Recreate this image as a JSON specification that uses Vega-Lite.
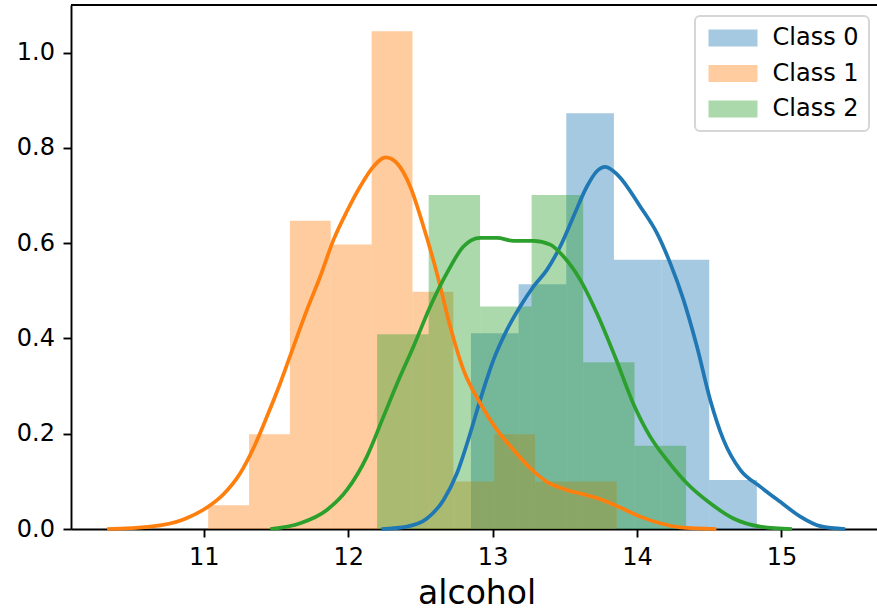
{
  "$schema": "https://vega.github.io/schema/vega-lite/v6.json",
  "width": 806,
  "height": 524,
  "autosize": {"type": "none"},
  "padding": {"left": 71, "top": 5, "right": 0, "bottom": 81},
  "background": "white",
  "config": {"view": {"stroke": null}, "font": "DejaVu Sans"},
  "datasets": {
    "hist": [
      {"cls": "Class 0", "x0": 12.85, "x1": 13.18, "density": 0.411},
      {"cls": "Class 0", "x0": 13.18, "x1": 13.51, "density": 0.514},
      {"cls": "Class 0", "x0": 13.51, "x1": 13.84, "density": 0.873},
      {"cls": "Class 0", "x0": 13.84, "x1": 14.17, "density": 0.565},
      {"cls": "Class 0", "x0": 14.17, "x1": 14.50, "density": 0.565},
      {"cls": "Class 0", "x0": 14.50, "x1": 14.83, "density": 0.103},
      {"cls": "Class 1", "x0": 11.03, "x1": 11.313, "density": 0.0498},
      {"cls": "Class 1", "x0": 11.313, "x1": 11.596, "density": 0.199},
      {"cls": "Class 1", "x0": 11.596, "x1": 11.879, "density": 0.647},
      {"cls": "Class 1", "x0": 11.879, "x1": 12.162, "density": 0.597},
      {"cls": "Class 1", "x0": 12.162, "x1": 12.445, "density": 1.045},
      {"cls": "Class 1", "x0": 12.445, "x1": 12.728, "density": 0.498},
      {"cls": "Class 1", "x0": 12.728, "x1": 13.011, "density": 0.0995},
      {"cls": "Class 1", "x0": 13.011, "x1": 13.294, "density": 0.199},
      {"cls": "Class 1", "x0": 13.294, "x1": 13.577, "density": 0.0995},
      {"cls": "Class 1", "x0": 13.577, "x1": 13.86, "density": 0.0995},
      {"cls": "Class 2", "x0": 12.2, "x1": 12.557, "density": 0.409},
      {"cls": "Class 2", "x0": 12.557, "x1": 12.913, "density": 0.701},
      {"cls": "Class 2", "x0": 12.913, "x1": 13.27, "density": 0.467},
      {"cls": "Class 2", "x0": 13.27, "x1": 13.627, "density": 0.701},
      {"cls": "Class 2", "x0": 13.627, "x1": 13.983, "density": 0.350},
      {"cls": "Class 2", "x0": 13.983, "x1": 14.34, "density": 0.175}
    ],
    "kde": [
      {"cls": "Class 0", "x": 12.23, "d": 0.0},
      {"cls": "Class 0", "x": 12.406, "d": 0.005},
      {"cls": "Class 0", "x": 12.545, "d": 0.022},
      {"cls": "Class 0", "x": 12.66, "d": 0.061},
      {"cls": "Class 0", "x": 12.753, "d": 0.117},
      {"cls": "Class 0", "x": 12.845, "d": 0.201},
      {"cls": "Class 0", "x": 12.914, "d": 0.271},
      {"cls": "Class 0", "x": 13.006, "d": 0.355},
      {"cls": "Class 0", "x": 13.099, "d": 0.418},
      {"cls": "Class 0", "x": 13.191, "d": 0.467},
      {"cls": "Class 0", "x": 13.283, "d": 0.509},
      {"cls": "Class 0", "x": 13.376, "d": 0.544},
      {"cls": "Class 0", "x": 13.468, "d": 0.593},
      {"cls": "Class 0", "x": 13.56, "d": 0.656},
      {"cls": "Class 0", "x": 13.653, "d": 0.719},
      {"cls": "Class 0", "x": 13.722, "d": 0.751},
      {"cls": "Class 0", "x": 13.78, "d": 0.76},
      {"cls": "Class 0", "x": 13.87, "d": 0.742},
      {"cls": "Class 0", "x": 14.022, "d": 0.677},
      {"cls": "Class 0", "x": 14.138, "d": 0.621},
      {"cls": "Class 0", "x": 14.23, "d": 0.558},
      {"cls": "Class 0", "x": 14.322, "d": 0.481},
      {"cls": "Class 0", "x": 14.415, "d": 0.383},
      {"cls": "Class 0", "x": 14.507, "d": 0.271},
      {"cls": "Class 0", "x": 14.599, "d": 0.187},
      {"cls": "Class 0", "x": 14.715, "d": 0.124},
      {"cls": "Class 0", "x": 14.853, "d": 0.089},
      {"cls": "Class 0", "x": 14.992, "d": 0.057},
      {"cls": "Class 0", "x": 15.131, "d": 0.026},
      {"cls": "Class 0", "x": 15.269, "d": 0.006},
      {"cls": "Class 0", "x": 15.442, "d": 0.0},
      {"cls": "Class 1", "x": 10.33, "d": 0.0},
      {"cls": "Class 1", "x": 10.629, "d": 0.005},
      {"cls": "Class 1", "x": 10.859, "d": 0.02},
      {"cls": "Class 1", "x": 11.021, "d": 0.045},
      {"cls": "Class 1", "x": 11.136, "d": 0.073},
      {"cls": "Class 1", "x": 11.252, "d": 0.117},
      {"cls": "Class 1", "x": 11.344, "d": 0.17},
      {"cls": "Class 1", "x": 11.437, "d": 0.236},
      {"cls": "Class 1", "x": 11.529, "d": 0.306},
      {"cls": "Class 1", "x": 11.621, "d": 0.383},
      {"cls": "Class 1", "x": 11.714, "d": 0.46},
      {"cls": "Class 1", "x": 11.806, "d": 0.53},
      {"cls": "Class 1", "x": 11.898, "d": 0.607},
      {"cls": "Class 1", "x": 11.991, "d": 0.667},
      {"cls": "Class 1", "x": 12.083, "d": 0.719},
      {"cls": "Class 1", "x": 12.175, "d": 0.761},
      {"cls": "Class 1", "x": 12.26, "d": 0.78},
      {"cls": "Class 1", "x": 12.337, "d": 0.768},
      {"cls": "Class 1", "x": 12.429, "d": 0.719},
      {"cls": "Class 1", "x": 12.521, "d": 0.635},
      {"cls": "Class 1", "x": 12.614, "d": 0.537},
      {"cls": "Class 1", "x": 12.706, "d": 0.425},
      {"cls": "Class 1", "x": 12.798, "d": 0.334},
      {"cls": "Class 1", "x": 12.914, "d": 0.264},
      {"cls": "Class 1", "x": 13.03, "d": 0.208},
      {"cls": "Class 1", "x": 13.145, "d": 0.166},
      {"cls": "Class 1", "x": 13.26, "d": 0.128},
      {"cls": "Class 1", "x": 13.376, "d": 0.099},
      {"cls": "Class 1", "x": 13.515, "d": 0.082},
      {"cls": "Class 1", "x": 13.653, "d": 0.071},
      {"cls": "Class 1", "x": 13.76, "d": 0.061},
      {"cls": "Class 1", "x": 13.884, "d": 0.045},
      {"cls": "Class 1", "x": 14.022, "d": 0.026},
      {"cls": "Class 1", "x": 14.161, "d": 0.012},
      {"cls": "Class 1", "x": 14.3, "d": 0.0035},
      {"cls": "Class 1", "x": 14.55, "d": 0.0},
      {"cls": "Class 2", "x": 11.46, "d": 0.0},
      {"cls": "Class 2", "x": 11.668, "d": 0.012},
      {"cls": "Class 2", "x": 11.852, "d": 0.04},
      {"cls": "Class 2", "x": 11.991, "d": 0.082},
      {"cls": "Class 2", "x": 12.129, "d": 0.152},
      {"cls": "Class 2", "x": 12.235, "d": 0.229},
      {"cls": "Class 2", "x": 12.345, "d": 0.31},
      {"cls": "Class 2", "x": 12.452, "d": 0.383},
      {"cls": "Class 2", "x": 12.568, "d": 0.467},
      {"cls": "Class 2", "x": 12.683, "d": 0.537},
      {"cls": "Class 2", "x": 12.798, "d": 0.593},
      {"cls": "Class 2", "x": 12.914, "d": 0.611},
      {"cls": "Class 2", "x": 13.03, "d": 0.611},
      {"cls": "Class 2", "x": 13.145, "d": 0.605},
      {"cls": "Class 2", "x": 13.283, "d": 0.605},
      {"cls": "Class 2", "x": 13.399, "d": 0.597},
      {"cls": "Class 2", "x": 13.491, "d": 0.572},
      {"cls": "Class 2", "x": 13.607, "d": 0.523},
      {"cls": "Class 2", "x": 13.722, "d": 0.453},
      {"cls": "Class 2", "x": 13.85, "d": 0.36},
      {"cls": "Class 2", "x": 13.976, "d": 0.262},
      {"cls": "Class 2", "x": 14.091, "d": 0.194},
      {"cls": "Class 2", "x": 14.207, "d": 0.145},
      {"cls": "Class 2", "x": 14.345, "d": 0.096},
      {"cls": "Class 2", "x": 14.507, "d": 0.054},
      {"cls": "Class 2", "x": 14.668, "d": 0.022},
      {"cls": "Class 2", "x": 14.853, "d": 0.005},
      {"cls": "Class 2", "x": 15.073, "d": 0.0}
    ]
  },
  "layer": [
    {
      "data": {"name": "hist"},
      "transform": [{"filter": "datum.cls === 'Class 0'"}],
      "mark": {"type": "bar", "opacity": 0.4, "strokeWidth": 0},
      "encoding": {
        "x": {"field": "x0", "type": "quantitative",
          "scale": {"domain": [10.08, 15.662], "nice": false, "zero": false},
          "axis": {
            "title": "alcohol", "values": [11, 12, 13, 14, 15], "format": "d",
            "grid": false, "domainColor": "black", "domainWidth": 1.9,
            "tickColor": "black", "tickWidth": 1.9, "tickSize": 8, "labelPadding": 8,
            "labelFont": "DejaVu Sans", "labelFontSize": 24, "labelColor": "black",
            "titleFont": "DejaVu Sans", "titleFontSize": 33, "titleFontWeight": "normal", "titleColor": "black",
            "titleBaseline": "alphabetic", "titleX": 405.6, "titleY": 74
          }
        },
        "x2": {"field": "x1"},
        "y": {"field": "density", "type": "quantitative",
          "scale": {"domain": [0, 1.1], "nice": false},
          "axis": {
            "title": null, "values": [0, 0.2, 0.4, 0.6, 0.8, 1.0], "format": ".1f",
            "grid": false, "domainColor": "black", "domainWidth": 1.9,
            "tickColor": "black", "tickWidth": 1.9, "tickSize": 8, "labelPadding": 8.5,
            "labelFont": "DejaVu Sans", "labelFontSize": 24, "labelColor": "black"
          }
        },
        "y2": {"datum": 0},
        "color": {"field": "cls", "type": "nominal",
          "scale": {"domain": ["Class 0", "Class 1", "Class 2"], "range": ["#1f77b4", "#ff7f0e", "#2ca02c"]},
          "legend": {"title": null, "orient": "none", "legendX": 624, "legendY": 11,
            "symbolType": "M-2.88,-1H2.88V1H-2.88Z", "symbolSize": 289, "symbolStrokeWidth": 0, "symbolOpacity": 0.4,
            "labelFontSize": 24, "labelFont": "DejaVu Sans", "labelColor": "black", "labelOffset": 27.5, "symbolOffset": 16,
            "padding": 10, "rowPadding": 11.5, "fillColor": "rgba(255,255,255,0.8)", "strokeColor": "#d6d6d6", "cornerRadius": 5,
            "encode": {"legend": {"update": {"strokeWidth": {"value": 2}}}}}}
      }
    },
    {
      "data": {"name": "hist"},
      "transform": [{"filter": "datum.cls === 'Class 1'"}],
      "mark": {"type": "bar", "opacity": 0.4, "strokeWidth": 0},
      "encoding": {
        "x": {"field": "x0", "type": "quantitative"},
        "x2": {"field": "x1"},
        "y": {"field": "density", "type": "quantitative"},
        "y2": {"datum": 0},
        "color": {"field": "cls", "type": "nominal"}
      }
    },
    {
      "data": {"name": "hist"},
      "transform": [{"filter": "datum.cls === 'Class 2'"}],
      "mark": {"type": "bar", "opacity": 0.4, "strokeWidth": 0},
      "encoding": {
        "x": {"field": "x0", "type": "quantitative"},
        "x2": {"field": "x1"},
        "y": {"field": "density", "type": "quantitative"},
        "y2": {"datum": 0},
        "color": {"field": "cls", "type": "nominal"}
      }
    },
    {
      "data": {"name": "kde"},
      "transform": [{"filter": "datum.cls === 'Class 0'"}],
      "mark": {"type": "line", "strokeWidth": 3.7, "interpolate": "monotone"},
      "encoding": {
        "x": {"field": "x", "type": "quantitative"},
        "y": {"field": "d", "type": "quantitative"},
        "stroke": {"field": "cls", "type": "nominal", "scale": {"domain": ["Class 0", "Class 1", "Class 2"], "range": ["#1f77b4", "#ff7f0e", "#2ca02c"]}, "legend": null}
      }
    },
    {
      "data": {"name": "kde"},
      "transform": [{"filter": "datum.cls === 'Class 1'"}],
      "mark": {"type": "line", "strokeWidth": 3.7, "interpolate": "monotone"},
      "encoding": {
        "x": {"field": "x", "type": "quantitative"},
        "y": {"field": "d", "type": "quantitative"},
        "stroke": {"field": "cls", "type": "nominal", "legend": null}
      }
    },
    {
      "data": {"name": "kde"},
      "transform": [{"filter": "datum.cls === 'Class 2'"}],
      "mark": {"type": "line", "strokeWidth": 3.7, "interpolate": "monotone"},
      "encoding": {
        "x": {"field": "x", "type": "quantitative"},
        "y": {"field": "d", "type": "quantitative"},
        "stroke": {"field": "cls", "type": "nominal", "legend": null}
      }
    },
    {
      "data": {"values": [{}]},
      "mark": {"type": "rule", "color": "black", "strokeWidth": 1.9},
      "encoding": {"y": {"datum": 1.1}}
    }
  ]
}
